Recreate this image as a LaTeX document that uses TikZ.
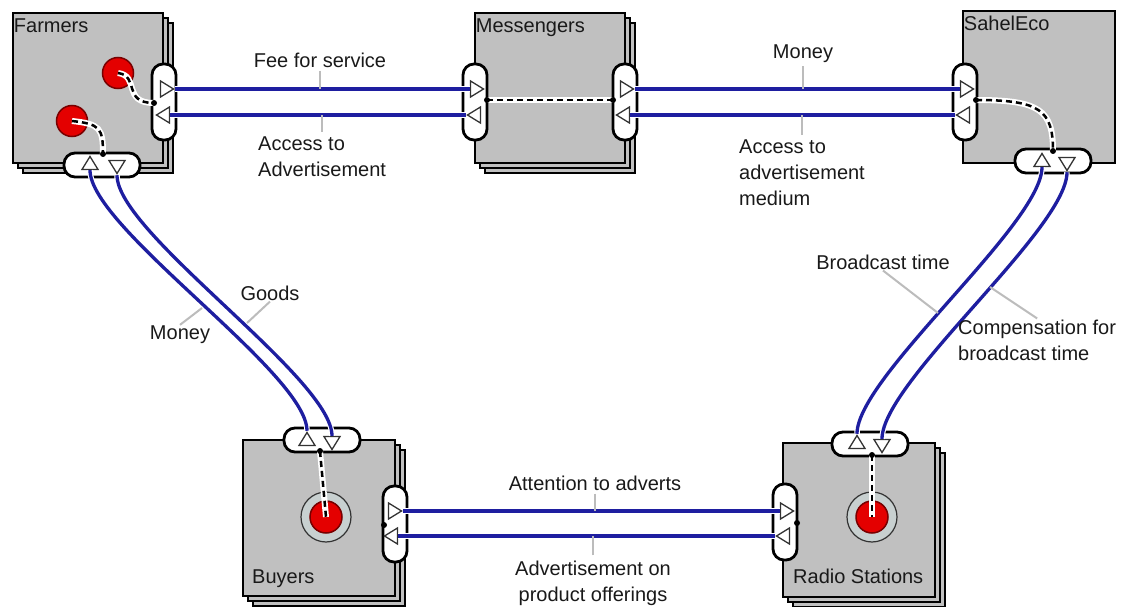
\documentclass[tikz,border=0pt]{standalone}
\usepackage{fontspec}
\setmainfont{Liberation Sans}
\usetikzlibrary{shapes.geometric, shadows}

\definecolor{boxgray}{RGB}{192,192,192}
\definecolor{flowblue}{RGB}{30,30,160}
\definecolor{leadgray}{RGB}{188,188,188}
\definecolor{redcore}{RGB}{228,0,0}
\definecolor{reddark}{RGB}{120,0,0}
\definecolor{ringfill}{RGB}{200,208,208}

\tikzset{
  actor/.style={draw=black, line width=2.5pt, fill=boxgray, minimum width=150pt, minimum height=150pt, inner sep=0pt},
  stack/.style={copy shadow={shadow xshift=10pt, shadow yshift=-10pt, fill=boxgray, draw=black, line width=2pt},
                copy shadow={shadow xshift=5pt, shadow yshift=-5pt, fill=boxgray, draw=black, line width=2pt}},
  boxlabel/.style={inner sep=2pt, text=black!90},
  vport/.style={draw=black, line width=2.8pt, fill=white, rounded corners=11pt, minimum width=24pt, minimum height=76pt, inner sep=0pt},
  hport/.style={draw=black, line width=2.8pt, fill=white, rounded corners=11pt, minimum width=76pt, minimum height=24pt, inner sep=0pt},
  tri/.style={isosceles triangle, isosceles triangle stretches, draw=black!80, line width=1.3pt, fill=white, minimum width=16pt, minimum height=13pt, inner sep=0pt},
  dot/.style={circle, fill=black, inner sep=0pt, minimum size=6pt},
  redpt/.style={circle, fill=redcore, draw=reddark, line width=1.5pt, minimum size=31pt, inner sep=0pt},
  ring/.style={circle, fill=ringfill, draw=black!80, line width=1.2pt, minimum size=50pt, inner sep=0pt},
  link/.style={preaction={draw=white, line width=6pt, solid}, draw=black, line width=2.5pt, dash pattern=on 6pt off 4pt},
  flow/.style={preaction={draw=white, line width=5.5pt}, draw=flowblue, line width=3.3pt},
  leader/.style={draw=leadgray, line width=2pt},
  lbl/.style={inner sep=1pt, text=black!90}
}

\begin{document}
\begin{tikzpicture}[x=1pt, y=-1pt, font=\fontsize{20}{26}\selectfont]
\useasboundingbox (0,0) rectangle (1128,607);

% Actors
\node[actor, stack] (farmers) at (88, 88) {};
\node[actor, stack] (messengers) at (550, 88) {};
\node[actor, minimum width=152pt, minimum height=152pt] (sahel) at (1039, 87) {};
\node[actor, stack, minimum width=152pt, minimum height=156pt] (buyers) at (319, 518) {};
\node[actor, stack, minimum width=152pt, minimum height=154pt] (radio) at (859, 520) {};

% Actor names
\node[boxlabel, anchor=north west, yshift=-5pt] (farmersname) at (farmers.north west) {Farmers};
\node[boxlabel, anchor=north west, yshift=-5pt] (messname) at (messengers.north west) {Messengers};
\node[boxlabel, anchor=north west, yshift=-4pt] (sahelname) at (sahel.north west) {SahelEco};
\node[boxlabel, anchor=base west] (buyname) at (250, 583) {Buyers};
\node[boxlabel, anchor=base west] (radname) at (791, 583) {Radio Stations};

% Value interfaces
\node[redpt] (seed1) at (118, 73) {};
\node[redpt] (seed2) at (72, 121) {};
\node[ring] (buyring) at (326, 517) {};
\node[redpt, minimum size=32pt] (buyred) at (326, 517) {};
\node[ring] (radring) at (872, 517) {};
\node[redpt, minimum size=32pt] (radred) at (872, 517) {};

% Ports
\node[vport] (farmersE) at (164, 102) {};
\node[hport] (farmersS) at (102, 165) {};
\node[vport] (messW) at (475, 102) {};
\node[vport] (messE) at (625, 102) {};
\node[vport] (sahelW) at (965, 102) {};
\node[hport] (sahelS) at (1053, 161) {};
\node[hport] (buyN) at (322, 440) {};
\node[vport] (buyE) at (395, 524) {};
\node[hport] (radN) at (870, 444) {};
\node[vport] (radW) at (785, 522) {};

% Dependency paths inside the actors
\coordinate (pfE) at (154, 103);
\coordinate (pfS) at (103, 154);
\coordinate (pmW) at (487, 100);
\coordinate (pmE) at (613, 100);
\coordinate (psW) at (976, 100);
\coordinate (psS) at (1053, 151);
\coordinate (pbN) at (320, 451);
\coordinate (pbE) at (384, 525);
\coordinate (prN) at (872, 455);
\coordinate (prW) at (797, 523);

\draw[link] (seed1.center) .. controls (140, 76) and (122, 103) .. (pfE);
\draw[link] (seed2.center) .. controls (100, 124) and (103, 128) .. (pfS);
\draw[link] (pmW) -- (pmE);
\draw[link] (psW) .. controls (1040, 100) and (1053, 110) .. (psS);
\draw[link] (pbN) -- (buyred.center);
\draw[link] (prN) -- (radred.center);

\foreach \p/\n in {pfE/dfE, pfS/dfS, pmW/dmW, pmE/dmE, psW/dsW, psS/dsS, pbN/dbN, pbE/dbE, prN/drN, prW/drW}
  \node[dot] (\n) at (\p) {};

% Value ports
\node[tri, rotate=0] (fE1) at (165, 89) {};
\node[tri, rotate=180] (fE2) at (165, 115) {};
\node[tri, rotate=0] (mW1) at (475, 89) {};
\node[tri, rotate=180] (mW2) at (476, 115) {};
\node[tri, rotate=0] (mE1) at (625, 89) {};
\node[tri, rotate=180] (mE2) at (625, 115) {};
\node[tri, rotate=0] (sW1) at (965, 89) {};
\node[tri, rotate=180] (sW2) at (965, 115) {};
\node[tri, rotate=90] (fS1) at (90, 165) {};
\node[tri, rotate=-90] (fS2) at (117, 165) {};
\node[tri, rotate=90] (bN1) at (307, 441) {};
\node[tri, rotate=-90] (bN2) at (332, 441) {};
\node[tri, rotate=90] (sS1) at (1042, 162) {};
\node[tri, rotate=-90] (sS2) at (1067, 162) {};
\node[tri, rotate=90] (rN1) at (857, 444) {};
\node[tri, rotate=-90] (rN2) at (882, 444) {};
\node[tri, rotate=0] (bE1) at (393, 511) {};
\node[tri, rotate=180] (bE2) at (393, 536) {};
\node[tri, rotate=0] (rW1) at (785, 511) {};
\node[tri, rotate=180] (rW2) at (785, 536) {};

% Value transfers
\draw[flow] (fE1.apex) -- (mW1.lower side);
\draw[flow] (mW2.apex) -- (fE2.lower side);
\draw[flow] (mE1.apex) -- (sW1.lower side);
\draw[flow] (sW2.apex) -- (mE2.lower side);
\draw[flow] (bE1.apex) -- (rW1.lower side);
\draw[flow] (rW2.apex) -- (bE2.lower side);
\draw[flow] (fS2.apex) .. controls +(0, 58) and +(0, -58) .. (bN2.lower side);
\draw[flow] (bN1.apex) .. controls +(0, -58) and +(0, 58) .. (fS1.lower side);
\draw[flow] (sS2.apex) .. controls +(0, 57) and +(0, -57) .. (rN2.lower side);
\draw[flow] (rN1.apex) .. controls +(0, -57) and +(0, 57) .. (sS1.lower side);

% Labels
\node[lbl] (fee) at (320, 60) {Fee for service};
\node[lbl, align=left, anchor=west] (access) at (257, 157) {Access to\\Advertisement};
\node[lbl] (money) at (803, 54) {Money};
\node[lbl, align=left, anchor=west] (medium) at (738, 173) {Access to\\advertisement\\medium};
\node[lbl] (goods) at (270, 293) {Goods};
\node[lbl] (cash) at (180, 335) {Money};
\node[lbl] (airtime) at (883, 262) {Broadcast time};
\node[lbl, align=left, anchor=west] (compens) at (957, 340) {Compensation for\\broadcast time};
\node[lbl] (attention) at (595, 483) {Attention to adverts};
\node[lbl, align=center] (advert) at (593, 583) {Advertisement on\\product offerings};

% Leaders
\coordinate (goodsL) at (247, 323);
\coordinate (cashL) at (202, 308);
\coordinate (airtimeL) at (938, 313);
\coordinate (compensL) at (990, 287);
\draw[leader] ([yshift=-2pt]fee.south) -- (fee.south |- fE1.apex);
\draw[leader] ([yshift=4pt]access.north) -- (access.north |- fE2.center);
\draw[leader] ([yshift=-2pt]money.south) -- (money.south |- mE1.apex);
\draw[leader] ([yshift=4pt]medium.north) -- (medium.north |- mE2.center);
\draw[leader] ([yshift=-2pt]attention.south) -- (attention.south |- bE1.apex);
\draw[leader] ([yshift=4pt]advert.north) -- (advert.north |- bE2.center);
\draw[leader] (goods.south) -- (goodsL);
\draw[leader] (cash.north) -- (cashL);
\draw[leader] (airtime.south) -- (airtimeL);
\draw[leader] (compens.north) -- (compensL);
\end{tikzpicture}
\end{document}
